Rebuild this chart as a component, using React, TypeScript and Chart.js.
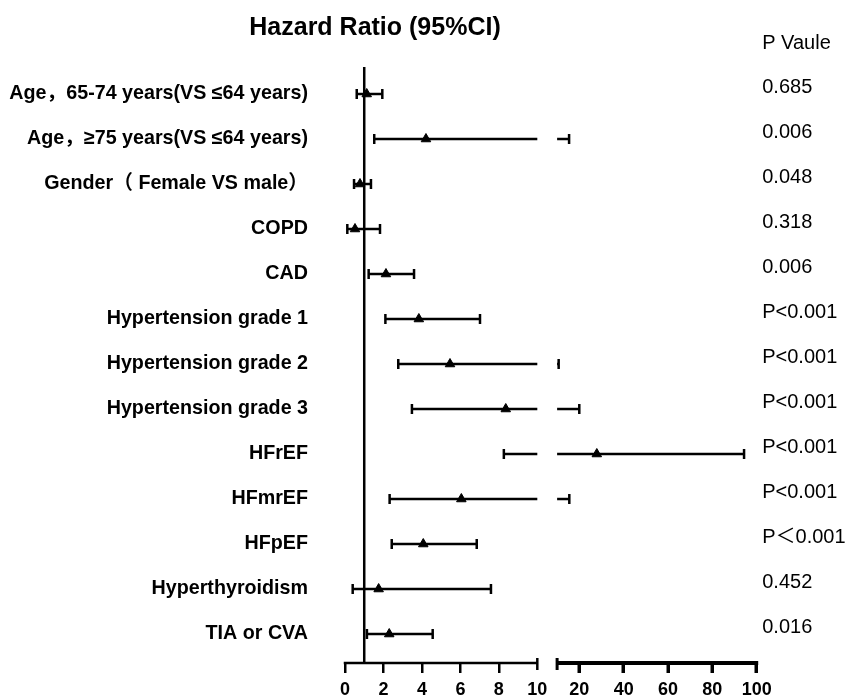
import React, { useEffect, useRef } from "react";
import { Chart, registerables, LinearScale } from "chart.js";

// ---------- data ----------
const categories = [
  "Age，65-74 years(VS ≤64 years)",
  "Age，≥75 years(VS ≤64 years)",
  "Gender（ Female VS male）",
  "COPD",
  "CAD",
  "Hypertension grade 1",
  "Hypertension grade 2",
  "Hypertension grade 3",
  "HFrEF",
  "HFmrEF",
  "HFpEF",
  "Hyperthyroidism",
  "TIA or CVA",
];
const hazardRatios = [1.13, 4.21, 0.78, 0.52, 2.13, 3.84, 5.46, 8.36, 27.9, 6.05, 4.07, 1.75, 2.3];
const ciLower = [0.61, 1.52, 0.47, 0.12, 1.23, 2.1, 2.77, 3.48, 8.26, 2.32, 2.43, 0.4, 1.14];
const ciUpper = [1.94, 15.4, 1.35, 1.82, 3.59, 7.02, 10.7, 20.0, 94.3, 15.5, 6.85, 7.59, 4.56];
const pValues = [
  "0.685", "0.006", "0.048", "0.318", "0.006",
  "P<0.001", "P<0.001", "P<0.001", "P<0.001", "P<0.001",
  "P＜0.001", "0.452", "0.016",
];
const xTickValues = [0, 2, 4, 6, 8, 10, 20, 40, 60, 80, 100];
const axisBreak = 10;
const referenceValue = 1;
const titleText = "Hazard Ratio (95%CI)";
const pHeaderText = "P Vaule";

const FONT = "'Liberation Sans', Arial, 'Noto Sans CJK SC', sans-serif";

// ---------- broken linear scale ----------
class BrokenLinearScale extends LinearScale {
  static id = "brokenLinear";
  static defaults = { ticks: { callback: (v: number) => String(v) } };

  buildTicks() {
    return xTickValues.map((v) => ({ value: v }));
  }
  fractions() {
    const o: any = this.options;
    return { fL: o.leftFraction as number, fG: o.gapFraction as number };
  }
  getRightStartPixel() {
    const { fL, fG } = this.fractions();
    return this.left + (fL + fG) * this.width;
  }
  getPixelForValue(value: number) {
    const { fL, fG } = this.fractions();
    const min = this.min;
    const max = this.max;
    if (value <= axisBreak) {
      return this.left + (fL * this.width * (value - min)) / (axisBreak - min);
    }
    return (
      this.left +
      (fL + fG) * this.width +
      ((1 - fL - fG) * this.width * (value - axisBreak)) / (max - axisBreak)
    );
  }
  getValueForPixel(pixel: number) {
    const { fL, fG } = this.fractions();
    const rel = pixel - this.left;
    const leftW = fL * this.width;
    if (rel <= leftW) return this.min + (rel / leftW) * (axisBreak - this.min);
    const rs = (fL + fG) * this.width;
    return axisBreak + ((rel - rs) / ((1 - fL - fG) * this.width)) * (this.max - axisBreak);
  }
}

Chart.register(...registerables, BrokenLinearScale);

// ---------- plugins ----------
const forestPlugin = {
  id: "forestPlot",
  beforeDatasetsDraw(chart: any) {
    const { ctx, chartArea } = chart;
    const xs = chart.scales.x;
    const ys = chart.scales.y;
    ctx.save();
    ctx.strokeStyle = "#000";
    ctx.lineCap = "butt";

    // reference line
    ctx.lineWidth = 2.5;
    const rx = xs.getPixelForValue(referenceValue);
    ctx.beginPath();
    ctx.moveTo(rx, chartArea.top);
    ctx.lineTo(rx, chartArea.bottom);
    ctx.stroke();

    // error bars
    const capH = 5;
    const seg = (x1: number, x2: number, y: number, c1: boolean, c2: boolean) => {
      ctx.beginPath();
      ctx.moveTo(x1, y);
      ctx.lineTo(x2, y);
      ctx.stroke();
      if (c1) {
        ctx.beginPath();
        ctx.moveTo(x1, y - capH);
        ctx.lineTo(x1, y + capH);
        ctx.stroke();
      }
      if (c2) {
        ctx.beginPath();
        ctx.moveTo(x2, y - capH);
        ctx.lineTo(x2, y + capH);
        ctx.stroke();
      }
    };
    ctx.lineWidth = 2.5;
    ciLower.forEach((lo, i) => {
      const hi = ciUpper[i];
      const y = ys.getPixelForValue(i);
      if (hi <= axisBreak || lo > axisBreak) {
        seg(xs.getPixelForValue(lo), xs.getPixelForValue(hi), y, true, true);
      } else {
        seg(xs.getPixelForValue(lo), xs.getPixelForValue(axisBreak), y, true, false);
        seg(xs.getRightStartPixel(), xs.getPixelForValue(hi), y, false, true);
      }
    });
    ctx.restore();
  },
  afterDraw(chart: any) {
    const { ctx, chartArea } = chart;
    const xs = chart.scales.x;
    const y2 = chart.scales.y2;
    const yb = chartArea.bottom;
    ctx.save();
    ctx.strokeStyle = "#000";
    ctx.lineCap = "butt";
    // broken axis lines
    const x0 = xs.getPixelForValue(xs.min);
    const xb = xs.getPixelForValue(axisBreak);
    const xr = xs.getRightStartPixel();
    const xe = xs.getPixelForValue(xs.max);
    ctx.lineWidth = 2.5;
    ctx.beginPath();
    ctx.moveTo(x0 - 1.25, yb);
    ctx.lineTo(xb, yb);
    ctx.stroke();
    ctx.beginPath();
    ctx.moveTo(xb, yb - 5);
    ctx.lineTo(xb, yb + 7);
    ctx.stroke();
    ctx.lineWidth = 4;
    ctx.beginPath();
    ctx.moveTo(xr, yb);
    ctx.lineTo(xe + 1.5, yb);
    ctx.stroke();
    ctx.lineWidth = 3;
    ctx.beginPath();
    ctx.moveTo(xr, yb - 5);
    ctx.lineTo(xr, yb + 7);
    ctx.stroke();

    // texts
    ctx.fillStyle = "#000";
    ctx.textBaseline = "alphabetic";
    ctx.font = `bold 25px ${FONT}`;
    ctx.textAlign = "center";
    ctx.fillText(titleText, 375, 35);
    ctx.font = `20px ${FONT}`;
    ctx.textAlign = "left";
    ctx.fillText(pHeaderText, y2.left + 5.5, 49);
    ctx.restore();
  },
};

const rowTicks = (scale: any) => {
  scale.ticks = categories.map((_, i) => ({ value: i }));
};

export default function App() {
  const ref = useRef<HTMLCanvasElement>(null);
  useEffect(() => {
    if (!ref.current) return;
    const chart = new Chart(ref.current, {
      type: "scatter",
      data: {
        datasets: [
          {
            label: "Hazard ratio",
            data: hazardRatios.map((v, i) => ({ x: v, y: i })),
            pointStyle: "triangle",
            pointRadius: 5.5,
            pointBorderWidth: 1,
            backgroundColor: "#000",
            borderColor: "#000",
            clip: false,
          } as any,
        ],
      },
      options: {
        animation: false,
        responsive: false,
        devicePixelRatio: 1,
        events: [],
        layout: { padding: { top: 67, left: 0, right: 0, bottom: 0 } },
        plugins: { legend: { display: false }, tooltip: { enabled: false }, title: { display: false } },
        scales: {
          x: {
            type: "brokenLinear" as any,
            min: 0,
            max: 100,
            leftFraction: 0.4671,
            gapFraction: 0.0481,
            position: "bottom",
            border: { display: false },
            grid: {
              display: true,
              drawOnChartArea: false,
              drawTicks: true,
              tickLength: 10,
              color: "#000",
              lineWidth: 2.5,
              tickWidth: (c: any) => (c.tick && c.tick.value > axisBreak ? 3.5 : 2.5),
              tickColor: (c: any) => (c.tick && c.tick.value === axisBreak ? "rgba(0,0,0,0)" : "#000"),
            },
            ticks: {
              autoSkip: false,
              maxRotation: 0,
              padding: 6.5,
              color: "#000",
              font: { family: FONT, size: 18, weight: "bold" },
            },
            afterFit: (s: any) => {
              s.height = 36;
            },
          } as any,
          y: {
            type: "linear",
            position: "left",
            reverse: true,
            min: -0.6,
            max: 12.644,
            border: { display: false },
            grid: { display: false, drawTicks: false },
            afterBuildTicks: rowTicks,
            ticks: {
              autoSkip: false,
              padding: 37,
              color: "#000",
              font: { family: FONT, size: 19.7, weight: "bold" },
              callback: (v: any) => categories[v],
            },
            afterFit: (s: any) => {
              s.width = 345;
              s.paddingTop = 0;
              s.paddingBottom = 0;
            },
          },
          y2: {
            type: "linear",
            position: "right",
            reverse: true,
            min: -0.6,
            max: 12.644,
            border: { display: false },
            grid: { display: false, drawTicks: false },
            afterBuildTicks: rowTicks,
            ticks: {
              autoSkip: false,
              padding: 5.5,
              labelOffset: -7,
              color: "#000",
              font: { family: FONT, size: 20 },
              callback: (v: any) => pValues[v],
            },
            afterFit: (s: any) => {
              s.width = 88.3;
              s.paddingTop = 0;
              s.paddingBottom = 0;
            },
          },
        },
      },
      plugins: [forestPlugin],
    });
    return () => chart.destroy();
  }, []);
  return (
    <div style={{ position: "fixed", left: 0, top: 0, width: 845, height: 699, background: "#fff" }}>
      <canvas ref={ref} width={845} height={699} style={{ display: "block", width: 845, height: 699 }} />
    </div>
  );
}
